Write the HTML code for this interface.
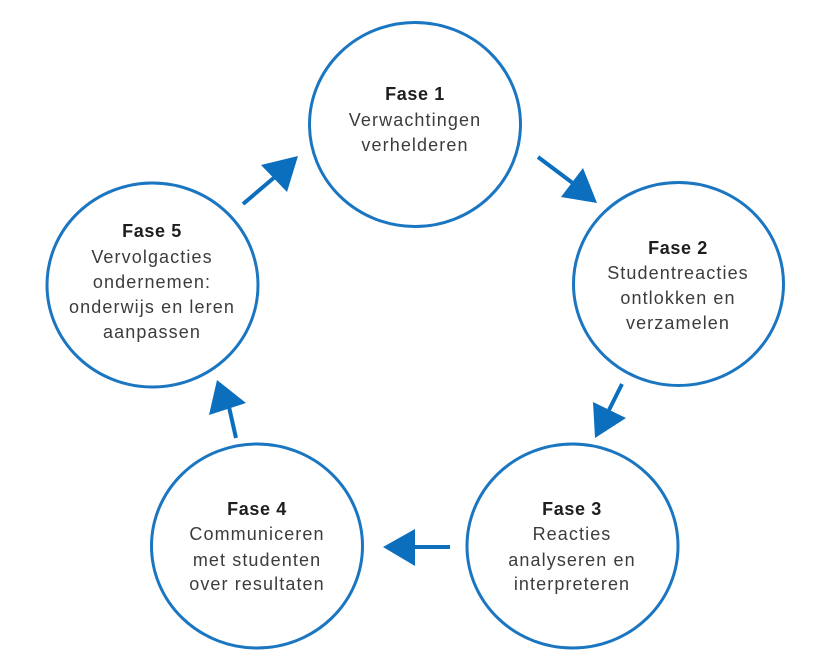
<!DOCTYPE html>
<html>
<head>
<meta charset="utf-8">
<style>
  html,body{margin:0;padding:0;background:#ffffff;}
  body{width:830px;height:664px;overflow:hidden;}
  svg{display:block;}
  .t{font-family:"Liberation Sans",Arial,sans-serif;font-size:18px;fill:#3c3c3c;letter-spacing:1.1px;text-anchor:middle;}
  .b{font-family:"Liberation Sans",Arial,sans-serif;font-size:18px;font-weight:bold;fill:#1e1e1e;letter-spacing:0.6px;text-anchor:middle;}
</style>
</head>
<body>
<svg width="830" height="664" viewBox="0 0 830 664" xmlns="http://www.w3.org/2000/svg">
  <g fill="#ffffff" stroke="#1b76c2" stroke-width="3">
    <ellipse cx="415" cy="124.5" rx="105.5" ry="102"/>
    <ellipse cx="678.5" cy="284" rx="105" ry="101.5"/>
    <ellipse cx="572.5" cy="546" rx="105.5" ry="102"/>
    <ellipse cx="257" cy="546" rx="105.5" ry="102"/>
    <ellipse cx="152.5" cy="285" rx="105.5" ry="102"/>
  </g>

  <g stroke="#0b6fbe" stroke-width="4" fill="none" stroke-linecap="butt">
    <line x1="538" y1="157" x2="574" y2="184"/>
    <line x1="622" y1="384" x2="608" y2="412"/>
    <line x1="450" y1="547" x2="413" y2="547"/>
    <line x1="236" y1="438" x2="229" y2="407"/>
    <line x1="243" y1="204" x2="276" y2="176"/>
  </g>
  <g fill="#0b6fbe">
    <polygon points="597,203 583,168 561,197"/>
    <polygon points="595,438 593,402 626,418"/>
    <polygon points="383,547 415,529 415,566"/>
    <polygon points="217,380 209,415 246,403"/>
    <polygon points="298,156 261,165 287,192"/>
  </g>

  <text class="b" x="415" y="100">Fase 1</text>
  <text class="t" x="415" y="126">Verwachtingen</text>
  <text class="t" x="415" y="151">verhelderen</text>

  <text class="b" x="678" y="254">Fase 2</text>
  <text class="t" x="678" y="279">Studentreacties</text>
  <text class="t" x="678" y="304">ontlokken en</text>
  <text class="t" x="678" y="329">verzamelen</text>

  <text class="b" x="572" y="515">Fase 3</text>
  <text class="t" x="572" y="540">Reacties</text>
  <text class="t" x="572" y="566">analyseren en</text>
  <text class="t" x="572" y="590">interpreteren</text>

  <text class="b" x="257" y="515">Fase 4</text>
  <text class="t" x="257" y="540">Communiceren</text>
  <text class="t" x="257" y="566">met studenten</text>
  <text class="t" x="257" y="590">over resultaten</text>

  <text class="b" x="152" y="237">Fase 5</text>
  <text class="t" x="152" y="263">Vervolgacties</text>
  <text class="t" x="152" y="288">ondernemen:</text>
  <text class="t" x="152" y="313">onderwijs en leren</text>
  <text class="t" x="152" y="338">aanpassen</text>
</svg>
</body>
</html>
